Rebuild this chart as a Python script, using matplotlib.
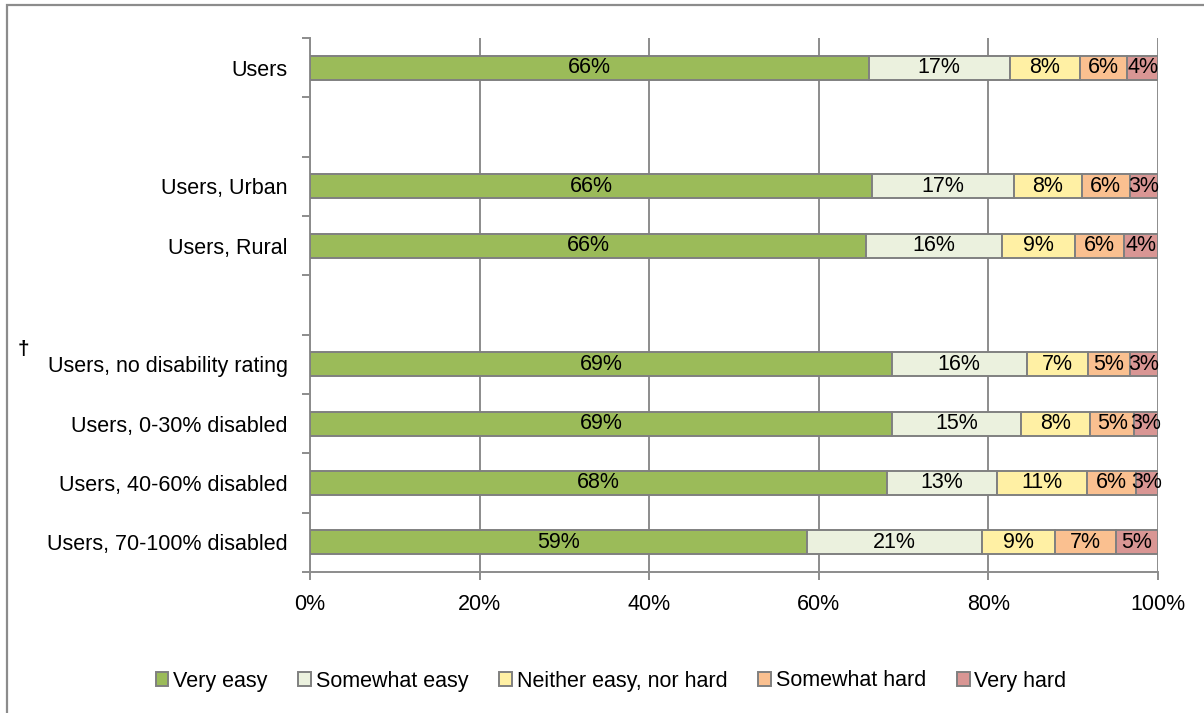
import matplotlib
matplotlib.use("Agg")
import matplotlib.pyplot as plt
from matplotlib.patches import Rectangle
import numpy as np

plt.rcParams['font.family'] = ['Liberation Sans', 'DejaVu Sans']

# Row labels (empty strings are spacer rows between groups)
categories = [
    "Users",
    "",
    "Users, Urban",
    "Users, Rural",
    "",
    "Users, no disability rating",
    "Users, 0-30% disabled",
    "Users, 40-60% disabled",
    "Users, 70-100% disabled",
]

series_names = ["Very easy", "Somewhat easy", "Neither easy, nor hard",
                "Somewhat hard", "Very hard"]

# Shares (%) per row; None marks a spacer row
very_easy = [65.9, None, 66.3, 65.6, None, 68.6, 68.6, 68.0, 58.6]
somewhat_easy = [16.6, None, 16.7, 16.0, None, 15.9, 15.3, 13.0, 20.6]
neither = [8.3, None, 8.0, 8.6, None, 7.2, 8.1, 10.6, 8.7]
somewhat_hard = [5.6, None, 5.7, 5.8, None, 5.0, 5.2, 5.8, 7.1]
very_hard = [3.6, None, 3.3, 4.0, None, 3.3, 2.8, 2.6, 5.0]

colors = ["#9BBB59", "#EBF1DE", "#FFF0A4", "#FAC090", "#D99694"]
edge = "#808080"

x_ticks = [0, 20, 40, 60, 80, 100]
x_tick_labels = ["0%", "20%", "40%", "60%", "80%", "100%"]

FS = 15.5

fig = plt.figure(figsize=(12.04, 7.13), dpi=100)

# outer chart frame
fig.patches.append(Rectangle((7 / 1204, -0.1), 1.2, 1 - 5 / 713 + 0.1,
                             transform=fig.transFigure, fill=False,
                             edgecolor="#8C8C8C", linewidth=1.6, zorder=0))

ax = fig.add_axes([310 / 1204, 1 - 572 / 713, 848 / 1204, 534 / 713])

n = len(categories)
y = np.arange(n)
series = [very_easy, somewhat_easy, neither, somewhat_hard, very_hard]

left = np.zeros(n)
handles = []
for name, vals, col in zip(series_names, series, colors):
    vals_arr = np.array([v if v is not None else 0.0 for v in vals])
    mask = np.array([v is not None for v in vals])
    bars = ax.barh(y[mask], vals_arr[mask], left=left[mask], height=0.4,
                   color=col, edgecolor=edge, linewidth=1.4, label=name,
                   zorder=3)
    handles.append(bars)
    for yi, v, l in zip(y[mask], vals_arr[mask], left[mask]):
        ax.text(l + v / 2, yi, f"{v:.0f}%", ha="center", va="center",
                fontsize=FS, color="black", zorder=4)
    left = left + vals_arr

ax.set_xlim(0, 100)
ax.set_ylim(n - 0.5, -0.5)

ax.set_xticks(x_ticks)
ax.set_xticklabels(x_tick_labels, fontsize=FS)
ax.xaxis.grid(True, color="#8C8C8C", linewidth=1.4, zorder=0)
ax.set_axisbelow(True)

ax.set_yticks(y)
ax.set_yticklabels(categories, fontsize=FS)
ax.set_yticks(np.arange(-0.5, n, 1.0), minor=True)
ax.tick_params(axis="y", which="major", length=0, pad=16)
ax.tick_params(axis="y", which="minor", length=6, width=1.4, color="#8C8C8C")
ax.tick_params(axis="x", which="major", length=6, width=1.4, color="#8C8C8C",
               pad=10)

for side in ["top", "right"]:
    ax.spines[side].set_visible(False)
for side in ["left", "bottom"]:
    ax.spines[side].set_color("#8C8C8C")
    ax.spines[side].set_linewidth(1.4)

fig.text(18 / 1204, 1 - 350 / 713, "\u2020", fontsize=15, ha="left",
         va="center", fontweight="bold")

# chart title, running off the top edge
fig.text(92 / 1204, 1 + 11 / 713, "y", fontsize=17, fontweight="bold",
         ha="center", va="center")

fig.legend(handles=handles, labels=series_names, loc="center",
           bbox_to_anchor=(611 / 1204, 1 - 681 / 713), ncol=5, frameon=False,
           fontsize=FS, handlelength=0.6, handleheight=0.6,
           handletextpad=0.2, columnspacing=1.45)

fig.savefig("out.png", dpi=100)
